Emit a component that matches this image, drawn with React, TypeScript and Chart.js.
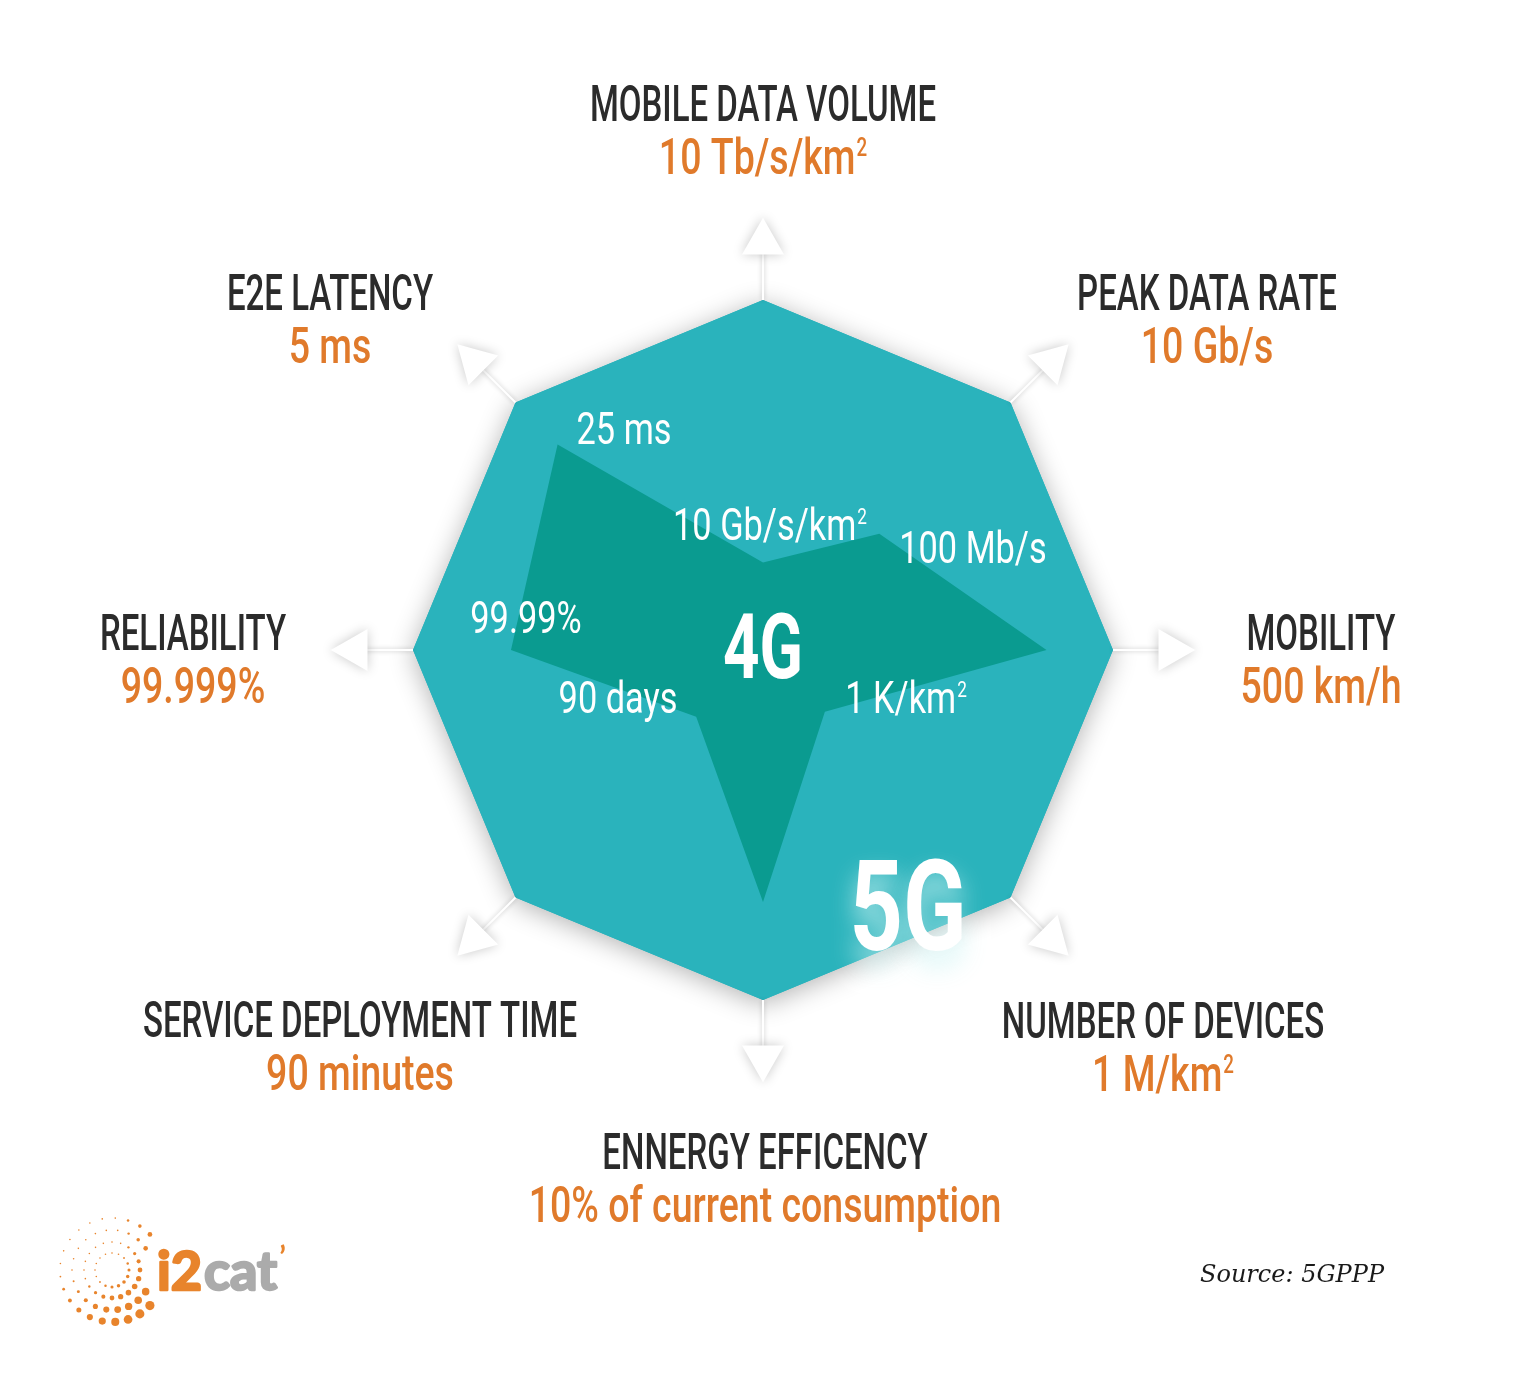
import React, { useEffect, useRef } from 'react';
import { Chart, registerables } from 'chart.js';

Chart.register(...registerables);

// ---- data ----
const categories = [
  'MOBILE DATA VOLUME',
  'PEAK DATA RATE',
  'MOBILITY',
  'NUMBER OF DEVICES',
  'ENNERGY EFFICENCY',
  'SERVICE DEPLOYMENT TIME',
  'RELIABILITY',
  'E2E LATENCY',
];
const targets5G = [
  '10 Tb/s/km²',
  '10 Gb/s',
  '500 km/h',
  '1 M/km²',
  '10% of current consumption',
  '90 minutes',
  '99.999%',
  '5 ms',
];
const labels4G = ['10 Gb/s/km²', '100 Mb/s', '', '1 K/km²', '', '90 days', '99.99%', '25 ms'];
const values5G = [1, 1, 1, 1, 1, 1, 1, 1];
const values4G = [0.25, 0.47, 0.81, 0.25, 0.72, 0.27, 0.72, 0.83];
const sourceText = 'Source: 5GPPP';

// ---- layout / style ----
const TEAL = '#2AB3BC';
const DARK = '#0A9B90';
const ORANGE = '#E07A2B';
const INK = '#2B2B2B';
const FONT = 'Roboto, "Noto Sans", sans-serif';

const titleOffsets: [number, number][] = [
  [0, -547], [444, -358], [558, -18], [400, 370],
  [2, 501], [-403, 369], [-570, -18], [-433, -358],
];
const VALUE_GAP = 53;
const innerOffsets: [number, number][] = [
  [7, -126], [210, -103], [0, 0], [143, 47],
  [0, 0], [-145, 47], [-237, -33], [-139, -222],
];

function txt(
  ctx: CanvasRenderingContext2D, s: string, x: number, capCenterY: number,
  size: number, weight: string | number, color: string, sx: number,
  family: string = FONT, align: CanvasTextAlign = 'center', capRatio = 0.711, style = 'normal'
) {
  ctx.save();
  ctx.font = `${style} ${weight} ${size}px ${family}`;
  ctx.fillStyle = color;
  ctx.textAlign = align;
  ctx.textBaseline = 'alphabetic';
  ctx.translate(x, capCenterY + (size * capRatio) / 2);
  ctx.scale(sx, 1);
  ctx.fillText(s, 0, 0);
  ctx.restore();
}

// centered text where a trailing "²" is drawn as a small raised superscript
function txtSup(
  ctx: CanvasRenderingContext2D, s: string, x: number, capCenterY: number,
  size: number, weight: string | number, color: string, sx: number
) {
  const idx = s.indexOf('²');
  if (idx < 0) { txt(ctx, s, x, capCenterY, size, weight, color, sx); return; }
  const base = s.slice(0, idx);
  const supSize = size * 0.5;
  ctx.save();
  ctx.font = `normal ${weight} ${size}px ${FONT}`;
  const wb = ctx.measureText(base).width * sx;
  ctx.font = `normal ${weight} ${supSize}px ${FONT}`;
  const ws = ctx.measureText('2').width * sx;
  ctx.restore();
  const left = x - (wb + ws + 1) / 2;
  const capTop = capCenterY - (size * 0.711) / 2;
  txt(ctx, base, left, capCenterY, size, weight, color, sx, FONT, 'left');
  txt(ctx, '2', left + wb + 1, capTop + (supSize * 0.711) / 2, supSize, weight, color, sx, FONT, 'left');
}

function drawLogo(ctx: CanvasRenderingContext2D) {
  const cx = 112, cy = 1270;
  const rings = [
    { r: 17, n: 16, s: 1.8, skip: 0 },
    { r: 28, n: 20, s: 2.8, skip: 0 },
    { r: 40, n: 22, s: 3.8, skip: 24 },
    { r: 52, n: 25, s: 4.6, skip: 40 },
  ];
  ctx.save();
  ctx.fillStyle = '#E8842C';
  rings.forEach((rg) => {
    for (let k = 0; k < rg.n; k++) {
      const a = (k / rg.n) * Math.PI * 2;
      const deg = (a * 180) / Math.PI;
      const d = deg > 180 ? deg - 360 : deg;
      if (Math.abs(d) < rg.skip) continue;
      const f = 0.5 + 0.5 * Math.cos(a - Math.PI / 4);
      ctx.beginPath();
      ctx.arc(cx + rg.r * Math.cos(a), cy + rg.r * Math.sin(a), Math.max(0.8, rg.s * f), 0, Math.PI * 2);
      ctx.fill();
    }
  });
  ctx.restore();
  ctx.save();
  ctx.font = 'bold 54px Lato, "Open Sans", sans-serif';
  ctx.textBaseline = 'alphabetic';
  ctx.textAlign = 'left';
  ctx.lineWidth = 2.5;
  ctx.lineJoin = 'round';
  ctx.fillStyle = '#E8842C';
  ctx.strokeStyle = '#E8842C';
  ctx.strokeText('i2', 157, 1290);
  ctx.fillText('i2', 157, 1290);
  const w = ctx.measureText('i2').width;
  ctx.fillStyle = '#ABABAB';
  ctx.strokeStyle = '#ABABAB';
  ctx.strokeText('cat', 159 + w, 1290);
  ctx.fillText('cat', 159 + w, 1290);
  const w2 = ctx.measureText('cat').width;
  ctx.fillStyle = '#E8842C';
  ctx.font = 'bold 30px Lato, sans-serif';
  ctx.fillText('’', 161 + w + w2, 1268);
  ctx.restore();
}

const decor = {
  id: 'decor',
  beforeDatasetsDraw(chart: any) {
    const scale = chart.scales.r;
    const ctx: CanvasRenderingContext2D = chart.ctx;
    ctx.save();
    ctx.shadowColor = 'rgba(0,0,0,0.30)';
    ctx.shadowBlur = 26;
    ctx.shadowOffsetY = 4;
    ctx.fillStyle = TEAL;
    ctx.beginPath();
    values5G.forEach((v, i) => {
      const p = scale.getPointPositionForValue(i, v);
      if (i === 0) ctx.moveTo(p.x, p.y); else ctx.lineTo(p.x, p.y);
    });
    ctx.closePath();
    ctx.fill();
    ctx.restore();
  },
  afterDraw(chart: any) {
    const scale = chart.scales.r;
    const ctx: CanvasRenderingContext2D = chart.ctx;
    const R = scale.drawingArea;
    const cx = scale.xCenter, cy = scale.yCenter;
    const n = categories.length;

    // axis extensions and arrow heads
    for (let i = 0; i < n; i++) {
      const a = scale.getPointPosition(i, R);
      const b = scale.getPointPosition(i, R * 1.14);
      ctx.save();
      ctx.shadowColor = 'rgba(0,0,0,0.25)';
      ctx.shadowBlur = 5;
      ctx.strokeStyle = '#ffffff';
      ctx.lineWidth = 2;
      ctx.beginPath();
      ctx.moveTo(a.x, a.y);
      ctx.lineTo(b.x, b.y);
      ctx.stroke();
      ctx.restore();

      const ang = scale.getIndexAngle(i) - Math.PI / 2;
      const tip = scale.getPointPosition(i, R * 1.235);
      const base = scale.getPointPosition(i, R * 1.13);
      const px = -Math.sin(ang), py = Math.cos(ang);
      const hw = 21;
      ctx.save();
      ctx.shadowColor = 'rgba(0,0,0,0.22)';
      ctx.shadowBlur = 12;
      ctx.fillStyle = '#ffffff';
      ctx.beginPath();
      ctx.moveTo(tip.x, tip.y);
      ctx.lineTo(base.x + px * hw, base.y + py * hw);
      ctx.lineTo(base.x - px * hw, base.y - py * hw);
      ctx.closePath();
      ctx.fill();
      ctx.restore();
    }

    // outer labels
    for (let i = 0; i < n; i++) {
      const [dx, dy] = titleOffsets[i];
      txt(ctx, categories[i], cx + dx, cy + dy, 50, 500, INK, 0.66);
      txtSup(ctx, targets5G[i], cx + dx, cy + dy + VALUE_GAP, 50, 500, ORANGE, 0.75);
    }

    // inner 4G labels
    for (let i = 0; i < n; i++) {
      if (!labels4G[i]) continue;
      const [dx, dy] = innerOffsets[i];
      txtSup(ctx, labels4G[i], cx + dx, cy + dy, 44, 400, '#ffffff', 0.78);
    }

    // 4G / 5G marks
    txt(ctx, '4G', cx, cy - 4, 91, 'bold', '#ffffff', 0.7);
    ctx.save();
    ctx.shadowColor = 'rgba(210,245,245,0.85)';
    ctx.shadowBlur = 24;
    ctx.shadowOffsetY = 16;
    txt(ctx, '5G', cx + 145, cy + 255, 126, 'bold', '#ffffff', 0.74);
    ctx.restore();

    // source + logo
    txt(ctx, sourceText, 1200, 1273, 24, 'normal', '#1a1a1a', 1, '"DejaVu Serif", serif', 'left', 0.729, 'italic');
    drawLogo(ctx);
  },
};

export default function App() {
  const ref = useRef<HTMLCanvasElement>(null);
  useEffect(() => {
    if (!ref.current) return;
    const chart = new Chart(ref.current, {
      type: 'radar',
      data: {
        labels: categories,
        datasets: [
          {
            label: '4G',
            data: values4G,
            backgroundColor: DARK,
            borderColor: 'rgba(0,0,0,0)',
            borderWidth: 1,
            pointRadius: 0,
            fill: true,
          },
          {
            label: '5G',
            data: values5G,
            backgroundColor: TEAL,
            borderColor: 'rgba(0,0,0,0)',
            borderWidth: 1,
            pointRadius: 0,
            fill: true,
          },
        ],
      },
      options: {
        responsive: false,
        animation: false,
        devicePixelRatio: 1,
        layout: { padding: { left: 413, right: 411, top: 300, bottom: 387 } },
        plugins: { legend: { display: false }, tooltip: { enabled: false } },
        scales: {
          r: {
            min: 0,
            max: 1,
            z: 1,
            ticks: { display: false },
            grid: { display: false },
            pointLabels: { display: false },
            angleLines: { display: true, color: '#ffffff', lineWidth: 1.6 },
          },
        },
      },
      plugins: [decor],
    });
    return () => chart.destroy();
  }, []);
  return (
    <div style={{ position: 'fixed', left: 0, top: 0, width: 1524, height: 1387, background: '#ffffff' }}>
      <canvas ref={ref} width={1524} height={1387} style={{ width: 1524, height: 1387, display: 'block' }} />
    </div>
  );
}
